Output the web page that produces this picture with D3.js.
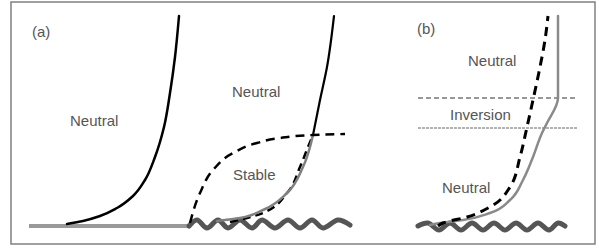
<!DOCTYPE html>
<html>
<head>
<meta charset="utf-8">
<script src="https://cdn.jsdelivr.net/npm/d3@7"></script>
<style>
  body { margin: 0; background: #fff; }
  text { font-family: "Liberation Sans", Arial, sans-serif; font-size: 15px; fill: #555; }
</style>
</head>
<body>
<div id="viz"></div>
<script>
// panel (a) profiles: wind speed u vs height z (arbitrary units)
var neutralLeftU  = [3.8, 5.4, 7.1, 8.8, 10.4, 11.6, 12.6, 13.5, 14.1, 14.6, 15.0];
var neutralLeftZ  = [0.2, 0.5, 1.0, 1.8, 3.0, 4.6, 6.9, 9.9, 13.3, 16.9, 21.0];
var neutralRightU = [30.5, 29.8, 29.1, 28.4];
var neutralRightZ = [21.0, 15.9, 12.6, 9.1];
var stableGrayU   = [28.4, 27.4, 25.8, 23.4, 21.1, 18.8];
var stableGrayZ   = [9.1, 5.9, 3.3, 1.6, 0.8, 0.5];
var stableDashU   = [16.1, 17.1, 18.4, 20.4, 22.8, 25.1, 28.4, 31.6];
var stableDashZ   = [0.3, 3.3, 5.6, 7.3, 8.3, 8.8, 9.1, 9.2];
var lowerDashU    = [20.1, 23.4, 25.8, 27.1, 27.9, 28.4];
var lowerDashZ    = [0.4, 1.3, 3.3, 5.9, 7.9, 9.1];
var groundU       = [0, 16.1];
var waveAU = [16.0, 16.8, 17.8, 18.9, 19.9, 21.1, 22.3, 23.3, 24.6, 25.9, 27.1, 28.3, 29.4, 30.9, 32.1];
var waveAZ = [0.0, 0.6, -0.2, 0.6, -0.2, 0.6, -0.2, 0.6, -0.2, 0.6, -0.2, 0.6, -0.2, 0.6, 0.1];

// panel (b) profiles
var invGrayU = [14.0, 14.0, 12.9, 12.4, 11.5, 10.5, 9.2, 7.2, 4.5, 2.2, 1.2];
var invGrayZ = [21.0, 12.8, 10.3, 9.3, 6.9, 4.6, 2.6, 1.3, 0.6, 0.3, 0.1];
var invDashU = [13.0, 12.7, 12.2, 11.5, 10.9, 10.2, 9.2, 7.2, 4.9, 2.5, 2.0];
var invDashZ = [21.0, 18.6, 15.9, 12.6, 9.9, 6.9, 3.9, 1.9, 0.9, 0.3, 0.0];
var inversionTop = 12.8, inversionBase = 9.8;
var waveBU = [0.0, 1.0, 2.1, 3.2, 4.3, 5.4, 6.5, 7.6, 8.7, 9.8, 10.9, 12.0, 13.1, 14.0, 14.7];
var waveBZ = [0.0, 0.3, -0.4, 0.3, -0.4, 0.3, -0.4, 0.3, -0.4, 0.3, -0.4, 0.3, -0.4, 0.3, 0.0];

// labels
var labelsA = [["(a)", 0.3, 18.9], ["Neutral", 4.1, 10.0], ["Neutral", 20.3, 12.9], ["Stable", 20.4, 4.6]];
var labelsB = [["(b)", -0.1, 19.2], ["Neutral", 5.0, 16.0], ["Inversion", 3.2, 10.6], ["Neutral", 2.4, 3.3]];

var W = 599, H = 248;
var svg = d3.select("#viz").append("svg").attr("width", W).attr("height", H);

svg.append("rect").attr("x", 11).attr("y", 2).attr("width", 584).attr("height", 242)
  .attr("fill", "none").attr("stroke", "#808080").attr("stroke-width", 1.5);

var z = d3.scaleLinear().domain([0, 21]).range([226, 16]);
var xa = d3.scaleLinear().domain([0, 32]).range([29, 349]);
var xb = d3.scaleLinear().domain([0, 16]).range([418, 578]);

function zip(us, zs){ return us.map(function(u, i){ return [u, zs[i]]; }); }

// profile: smooth curve with height as the independent variable
function draw(x, us, zs, color, width, dash, curve){
  var pts = zip(us, zs);
  if (!curve) { pts.sort(function(a, b){ return a[1] - b[1]; }); curve = d3.curveMonotoneY; }
  var line = d3.line().x(function(d){ return x(d[0]); }).y(function(d){ return z(d[1]); }).curve(curve);
  var p = svg.append("path").datum(pts).attr("d", line)
    .attr("fill", "none").attr("stroke", color).attr("stroke-width", width)
    .attr("stroke-linecap", "round").attr("stroke-linejoin", "round");
  if (dash) p.attr("stroke-dasharray", dash).attr("stroke-linecap", "butt");
  return p;
}

// panel (a)
draw(xa, groundU, [0, 0], "#999", 4, null, d3.curveLinear).attr("stroke-linecap", "butt");
draw(xa, waveAU, waveAZ, "#555", 5, null, d3.curveCatmullRom);
draw(xa, neutralLeftU, neutralLeftZ, "#000", 2.5);
draw(xa, neutralRightU, neutralRightZ, "#000", 2.2);
draw(xa, lowerDashU, lowerDashZ, "#000", 2.5, "8,5");
draw(xa, stableGrayU, stableGrayZ, "#808080", 2.5);
draw(xa, stableDashU, stableDashZ, "#000", 2.5, "9,6");

// panel (b)
draw(xb, waveBU, waveBZ, "#555", 5, null, d3.curveCatmullRom);
draw(xb, [0, 16], [inversionTop, inversionTop], "#333", 1, "5,3", d3.curveLinear);
draw(xb, [0, 16], [inversionBase, inversionBase], "#666", 1, "3,1", d3.curveLinear);
draw(xb, invGrayU, invGrayZ, "#8a8a8a", 2.5);
draw(xb, invDashU, invDashZ, "#000", 3, "9,6");

svg.selectAll("text.a").data(labelsA).enter().append("text")
  .attr("x", function(d){ return xa(d[1]); }).attr("y", function(d){ return z(d[2]); })
  .text(function(d){ return d[0]; });
svg.selectAll("text.b").data(labelsB).enter().append("text")
  .attr("x", function(d){ return xb(d[1]); }).attr("y", function(d){ return z(d[2]); })
  .text(function(d){ return d[0]; });
</script>
</body>
</html>
